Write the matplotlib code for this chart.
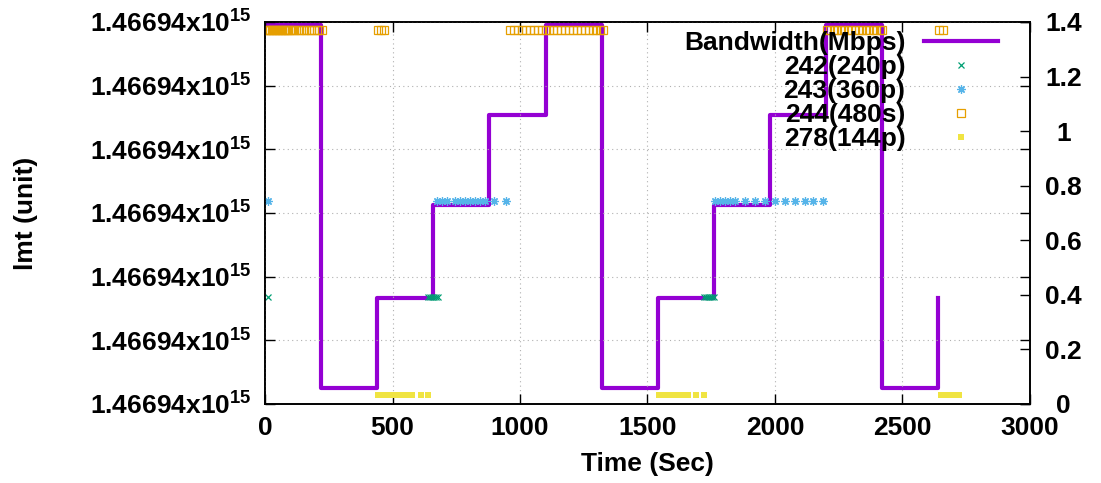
import matplotlib
matplotlib.use("Agg")
import matplotlib.pyplot as plt
from matplotlib.ticker import FixedLocator, FuncFormatter, MultipleLocator

plt.rcParams["font.family"] = ["Liberation Sans", "DejaVu Sans"]
plt.rcParams["font.weight"] = "bold"
plt.rcParams["axes.labelweight"] = "bold"
plt.rcParams["font.size"] = 19
plt.rcParams["mathtext.fontset"] = "custom"
plt.rcParams["mathtext.rm"] = "Liberation Sans:bold"
plt.rcParams["mathtext.bf"] = "Liberation Sans:bold"
plt.rcParams["mathtext.default"] = "bf"

# bandwidth schedule, steps of ~220 s (right axis, Mbps)
bw_time = [0, 220, 440, 660, 880, 1100, 1320, 1540, 1760, 1980, 2200, 2420, 2640]
bw_mbps = [1.39, 0.06, 0.39, 0.73, 1.06, 1.39, 0.06, 0.39, 0.73, 1.06, 1.39, 0.06, 0.39]

# itag samples on the left axis (in tick steps, all labels print the same value)
t_242 = [10, 640, 648, 655, 662, 670, 677, 1722, 1730, 1738, 1745, 1752, 1760]
lvl_242 = 1.68
t_243 = [10, 673, 693, 712, 745, 765, 784, 804, 824, 843, 863, 898, 945,
         1765, 1785, 1804, 1824, 1843, 1882, 1922, 1961, 2000, 2039, 2078,
         2118, 2150, 2190]
lvl_243 = 3.19
t_244 = [2, 8, 14, 20, 26, 32, 38, 44, 50, 56, 62, 68, 74, 80, 86, 92, 98,
         104, 112, 122, 132, 142, 152, 162, 172, 182, 192, 202, 212, 222,
         445, 455, 465,
         962, 977, 993, 1008, 1024, 1039, 1055, 1070, 1085, 1100, 1115, 1131,
         1146, 1162, 1177, 1192, 1208, 1223, 1239, 1254, 1270, 1285, 1300,
         1315, 1326,
         2202, 2216, 2230, 2244, 2258, 2272, 2286, 2300, 2314, 2328, 2342,
         2356, 2370, 2384, 2398, 2412, 2420,
         2645, 2660]
lvl_244 = 5.88
t_278 = [445, 455, 465, 475, 485, 495, 505, 515, 525, 535, 545, 552, 576, 611, 641,
         1547, 1557, 1567, 1577, 1587, 1597, 1607, 1617, 1627, 1638, 1658, 1691, 1723,
         2652, 2662, 2672, 2682, 2692, 2702, 2712, 2722]
lvl_278 = 0.14

left_tick_label = r"1.46694x10$^{15}$"
x_ticks = [0, 500, 1000, 1500, 2000, 2500, 3000]

fig = plt.figure(figsize=(11.01, 4.83), dpi=100)
ax = fig.add_axes([0.2407, 0.1636, 0.6948, 0.7909])
ax2 = ax.twinx()
ax.set_zorder(ax2.get_zorder() + 1)
ax.patch.set_visible(False)

line, = ax2.step(bw_time, bw_mbps, where="post", color="#9400D3", lw=3,
                 label="Bandwidth(Mbps)")
p242, = ax.plot(t_242, [lvl_242] * len(t_242), ls="none", marker="x", ms=5,
                mew=0.9, color="#009E73", label="242(240p)")
p243, = ax.plot(t_243, [lvl_243] * len(t_243), ls="none", marker=(8, 2, 0), ms=6,
                mew=0.9, color="#56B4E9", label="243(360p)")
p244, = ax.plot(t_244, [lvl_244] * len(t_244), ls="none", marker="s", ms=5.5,
                mew=0.9, mfc="none", mec="#E69F00", label="244(480s)")
p278, = ax.plot(t_278, [lvl_278] * len(t_278), ls="none", marker="s", ms=5,
                mew=0, color="#F0E442", label="278(144p)")

ax.set_xlim(0, 3000)
ax.set_ylim(0, 6)
ax2.set_ylim(0, 1.4)

ax.xaxis.set_major_locator(FixedLocator(x_ticks))
ax.yaxis.set_major_locator(MultipleLocator(1))
ax.yaxis.set_major_formatter(FuncFormatter(lambda v, p: left_tick_label))
ax2.yaxis.set_major_locator(MultipleLocator(0.2))
ax2.yaxis.set_major_formatter(FuncFormatter(lambda v, p: f"{v:g}"))

ax.grid(True, color="#b0b0b0", ls=(0, (1, 3)), lw=0.8)
ax.tick_params(axis="both", direction="in", length=7, width=1, top=True, right=True)
ax.tick_params(axis="y", pad=10)
ax.tick_params(axis="x", pad=9)
ax2.tick_params(axis="y", direction="in", length=7, width=1, pad=24)
for lbl in ax2.get_yticklabels():
    lbl.set_horizontalalignment("center")
for a in (ax, ax2):
    for s in a.spines.values():
        s.set_linewidth(1.2)

ax.set_xlabel("Time (Sec)")
ax.xaxis.set_label_coords(0.5, -0.125)
ax.set_ylabel("lmt (unit)")
ax.yaxis.set_label_coords(-0.297, 0.5)

handles = [line, p242, p243, p244, p278]
leg = ax.legend(handles, [h.get_label() for h in handles], loc="upper right",
                bbox_to_anchor=(0.9064, 0.935), bbox_transform=fig.transFigure,
                markerfirst=False, frameon=False, labelspacing=0.0,
                handlelength=2.8, handletextpad=0.7, borderpad=0, borderaxespad=0)
for col in leg._legend_handle_box.get_children():
    col.align = "right"

fig.savefig("out.png", dpi=100)
